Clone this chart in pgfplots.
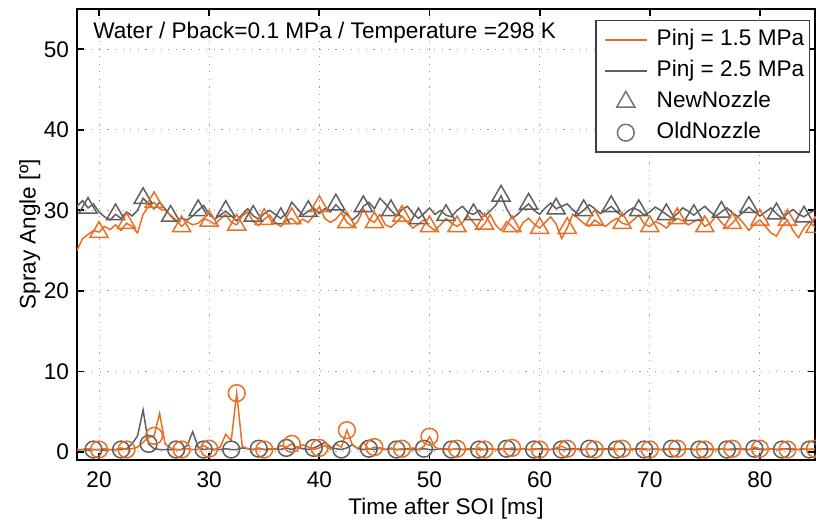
\documentclass[border=0pt]{standalone}
\usepackage{pgfplots}
\pgfplotsset{compat=1.18}
\usepackage{pgfplotstable}
\usepackage{fontspec}
\setmainfont{Liberation Sans}
\definecolor{cor}{RGB}{235,110,35}
\definecolor{cgr}{RGB}{95,95,95}
\definecolor{clg}{RGB}{115,115,115}
\pgfplotsset{
  lineleg/.style={legend image code/.code={\path[draw=none] (-0.12cm,0cm) (0.86cm,0cm); \draw[##1] (0cm,0cm) -- (0.74cm,0cm);}},
  markleg/.style={legend image code/.code={\path[draw=none] (-0.12cm,0cm) (0.86cm,0cm); \draw[##1] plot coordinates {(0.37cm,0cm)};}},
}

\pgfplotstableread{
x o1 g1 o2 g2
18.0 25.0 30.5 0.2 0.3
18.5 26.5 31.2 0.3 0.3
19.0 27.0 30.3 0.4 0.2
19.5 27.5 30.8 0.3 0.3
20.0 27.3 29.8 0.3 0.3
20.5 28.0 29.2 0.4 0.2
21.0 27.6 28.8 0.3 0.3
21.5 28.2 29.5 0.3 0.3
22.0 27.5 29.0 0.5 0.3
22.5 28.4 29.8 0.3 0.4
23.0 28.0 29.3 0.4 1.0
23.5 27.2 30.0 0.6 2.0
24.0 29.5 31.5 1.2 5.2
24.5 30.5 30.8 1.8 1.0
25.0 31.0 30.2 2.0 0.4
25.5 30.2 31.0 4.8 0.3
26.0 30.0 30.2 1.0 0.3
26.5 29.4 29.3 0.5 0.3
27.0 28.8 28.6 0.3 0.3
27.5 28.0 29.0 0.3 0.3
28.0 28.6 28.8 0.4 0.8
28.5 28.2 29.3 0.3 2.5
29.0 28.4 30.0 0.3 0.6
29.5 29.0 30.6 0.8 0.3
30.0 28.7 29.5 0.4 0.4
30.5 28.3 28.9 0.3 0.3
31.0 28.9 29.4 0.6 0.3
31.5 29.5 29.9 2.2 0.4
32.0 28.5 29.3 1.4 0.3
32.5 28.2 28.7 7.3 0.3
33.0 29.3 29.5 0.7 0.5
33.5 29.8 30.2 0.4 0.4
34.0 28.6 29.3 0.3 0.3
34.5 28.1 28.9 0.5 0.4
35.0 28.9 29.6 0.3 0.3
35.5 29.4 30.0 0.4 0.3
36.0 28.5 29.5 0.3 0.4
36.5 28.0 29.0 0.8 0.3
37.0 28.7 29.6 0.6 0.5
37.5 29.0 31.0 1.0 0.3
38.0 28.3 30.2 0.5 0.6
38.5 28.9 29.4 0.9 0.4
39.0 28.5 29.9 0.6 0.3
39.5 29.4 30.3 0.3 0.5
40.0 30.5 29.6 0.5 0.8
40.5 29.0 30.2 0.8 1.2
41.0 28.5 29.8 0.3 0.6
41.5 28.9 30.7 1.0 0.4
42.0 29.7 30.0 0.6 0.3
42.5 28.5 29.5 2.7 0.5
43.0 28.0 28.8 0.9 0.9
43.5 28.6 29.4 0.4 0.4
44.0 30.2 30.5 1.2 0.3
44.5 28.9 31.0 0.3 0.4
45.0 28.5 30.2 0.6 0.3
45.5 29.5 31.5 0.4 0.5
46.0 28.2 30.8 0.3 0.3
46.5 27.9 30.0 0.5 0.4
47.0 28.5 29.3 0.3 0.3
47.5 29.3 30.1 0.4 0.3
48.0 28.5 30.5 0.3 0.4
48.5 27.8 29.6 0.5 0.3
49.0 28.3 29.0 0.3 0.3
49.5 28.8 29.6 0.7 0.4
50.0 28.0 30.3 1.9 0.3
50.5 27.5 29.5 0.6 0.3
51.0 28.2 30.0 0.3 0.4
51.5 29.0 29.4 0.4 0.3
52.0 28.4 29.2 0.3 0.3
52.5 28.0 30.0 0.4 0.4
53.0 28.5 30.5 0.3 0.3
53.5 29.3 29.7 0.4 0.3
54.0 28.5 29.5 0.3 0.4
54.5 27.6 30.0 0.5 0.3
55.0 28.3 29.3 0.3 0.3
55.5 29.5 29.9 0.4 0.4
56.0 28.2 30.6 0.3 0.3
56.5 27.5 31.8 0.4 0.3
57.0 28.6 30.2 0.3 0.4
57.5 28.0 29.0 0.5 0.3
58.0 27.3 29.5 0.3 0.3
58.5 28.5 30.2 0.4 0.4
59.0 29.0 30.8 0.3 0.3
59.5 28.3 30.0 0.4 0.3
60.0 27.8 29.5 0.3 0.4
60.5 28.5 30.3 0.4 0.3
61.0 29.2 30.9 0.3 0.3
61.5 28.3 30.2 0.5 0.4
62.0 26.5 30.5 0.7 0.3
62.5 27.8 30.8 0.4 0.3
63.0 29.5 30.1 0.3 0.4
63.5 29.0 29.5 0.4 0.3
64.0 28.4 30.0 0.3 0.3
64.5 28.0 30.7 0.4 0.4
65.0 28.8 30.2 0.3 0.3
65.5 28.3 29.6 0.4 0.3
66.0 28.0 30.0 0.3 0.4
66.5 28.6 30.5 0.5 0.3
67.0 29.0 29.8 0.3 0.3
67.5 28.4 29.3 0.4 0.4
68.0 28.2 29.9 0.3 0.3
68.5 28.8 30.3 0.4 0.3
69.0 29.4 30.0 0.3 0.4
69.5 28.3 29.4 0.4 0.3
70.0 28.0 29.8 0.3 0.3
70.5 28.6 30.4 0.4 0.4
71.0 28.3 30.0 0.3 0.3
71.5 27.8 29.5 0.4 0.3
72.0 28.5 29.0 0.3 0.4
72.5 29.0 29.6 0.4 0.3
73.0 28.7 30.3 0.3 0.3
73.5 28.2 29.9 0.4 0.4
74.0 28.6 29.4 0.3 0.3
74.5 28.9 30.0 0.4 0.3
75.0 28.0 30.5 0.3 0.4
75.5 28.4 29.8 0.4 0.3
76.0 29.3 29.3 0.3 0.3
76.5 28.5 29.8 0.4 0.4
77.0 27.8 30.3 0.3 0.3
77.5 28.4 29.7 0.4 0.3
78.0 29.2 29.2 0.3 0.4
78.5 28.4 29.8 0.4 0.3
79.0 27.5 30.4 0.3 0.3
79.5 28.3 29.8 0.6 0.4
80.0 28.8 29.3 0.4 0.3
80.5 28.0 29.8 0.3 0.3
81.0 27.2 30.3 0.4 0.4
81.5 26.8 29.6 0.3 0.3
82.0 28.0 29.0 0.4 0.3
82.5 28.8 29.6 0.3 0.4
83.0 27.5 30.1 0.4 0.3
83.5 26.6 29.5 0.3 0.3
84.0 27.8 29.2 0.4 0.4
84.5 28.6 29.7 0.3 0.3
85.0 27.9 30.0 0.4 0.4
}\data

\begin{document}
\fontsize{11.3}{13.5}\selectfont
\begin{tikzpicture}
\begin{axis}[
  scale only axis, width=369pt, height=225.5pt,
  xmin=18, xmax=85, ymin=-1, ymax=55,
  xtick={20,30,...,80}, ytick={0,10,...,50},
  grid=major,
  grid style={gray!75, line width=0.5pt, dash pattern=on 0.6pt off 3.2pt},
  axis line style={line width=0.9pt, black},
  tick style={line width=0.9pt, black},
  major tick length=3.5pt,
  tick align=inside,
  /pgf/number format/assume math mode=true,
  font=\fontsize{11.3}{13.5}\selectfont,
  xticklabel style={yshift=-2pt},
  xlabel={Time after SOI [ms]},
  ylabel={Spray Angle [º]},
  xlabel style={at={(axis description cs:0.5,-0.1086)}, anchor=center},
  ylabel style={at={(axis description cs:-0.064,0.5)}, anchor=center},
  legend cell align=left,
  legend style={at={(rel axis cs:1,1)}, anchor=north east, xshift=-2.5pt, yshift=-5.5pt,
    draw=black!75, line width=0.7pt, fill=white, inner xsep=1pt, inner ysep=2pt,
    row sep=0pt,
    nodes={inner xsep=1.5pt, inner ysep=2.4pt, text height=0.72em, text depth=0.22em},
    font=\fontsize{11.3}{13.5}\selectfont},
]
\addplot[cgr, line width=0.75pt, mark=triangle, mark size=5.2pt, mark repeat=5, mark phase=3,
  mark options={solid, line width=0.75pt}, forget plot] table[x=x,y=g1]{\data};
\addplot[cor, line width=0.75pt, mark=triangle, mark size=5.2pt, mark repeat=5, mark phase=5,
  mark options={solid, line width=0.75pt}, forget plot] table[x=x,y=o1]{\data};
\addplot[cgr, line width=0.75pt, mark=o, mark size=4.2pt, mark repeat=5, mark phase=4,
  mark options={solid, line width=0.75pt}, forget plot] table[x=x,y=g2]{\data};
\addplot[cor, line width=0.75pt, mark=o, mark size=4.2pt, mark repeat=5, mark phase=5,
  mark options={solid, line width=0.75pt}, forget plot] table[x=x,y=o2]{\data};

\addlegendimage{cor, line width=0.75pt, lineleg}
\addlegendentry{Pinj = 1.5 MPa}
\addlegendimage{cgr, line width=0.75pt, lineleg}
\addlegendentry{Pinj = 2.5 MPa}
\addlegendimage{clg, line width=0.75pt, mark=triangle, mark size=5.2pt, markleg}
\addlegendentry{NewNozzle}
\addlegendimage{clg, line width=0.75pt, mark=o, mark size=4.2pt, markleg}
\addlegendentry{OldNozzle}

\node[anchor=north west, inner sep=0pt, xshift=8pt, yshift=-6.5pt] at (rel axis cs:0,1) {Water / Pback=0.1 MPa / Temperature =298 K};
\end{axis}
\pgfresetboundingbox
\path ([xshift=-38.5pt,yshift=-33.5pt]current axis.south west) rectangle ([xshift=0.5pt,yshift=4.5pt]current axis.north east);
\end{tikzpicture}
\end{document}
